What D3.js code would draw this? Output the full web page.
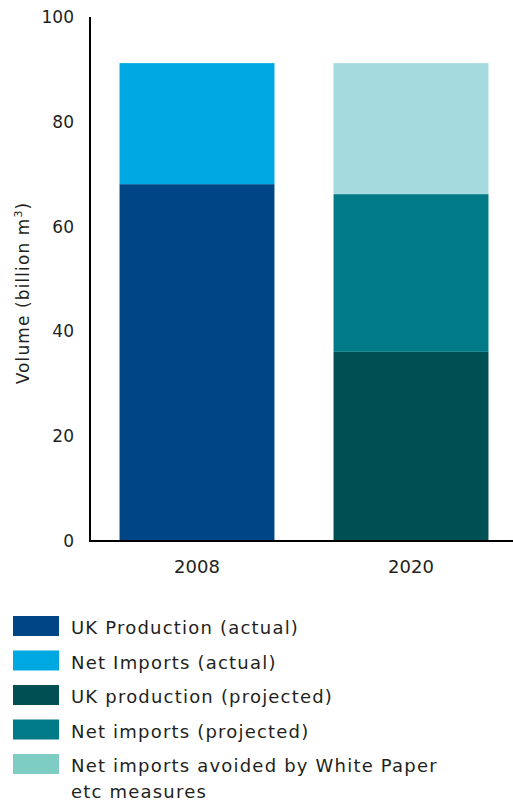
<!DOCTYPE html>
<html>
<head>
<meta charset="utf-8">
<script src="https://cdn.jsdelivr.net/npm/d3@7"></script>
<style>
  body { margin: 0; background: #fff; }
  text { font-family: "DejaVu Sans", "Liberation Sans", Arial, sans-serif; fill: #231f20; }
</style>
</head>
<body>
<svg id="chart" width="513" height="803"></svg>
<script>
// data (billion m3)
var years = ["2008", "2020"]
var seriesNames = ["UK Production (actual)", "Net Imports (actual)", "UK production (projected)", "Net imports (projected)", "Net imports avoided by White Paper etc measures"]
var seriesKeys = ["ukActual", "importActual", "ukProj", "importProj", "avoided"]
var ukActual = [68.1, 0]
var importActual = [23.1, 0]
var ukProj = [0, 36.1]
var importProj = [0, 30.1]
var avoided = [0, 25.0]
var yTicks = [0, 20, 40, 60, 80, 100]

var barColors = ["#004687", "#00a8e1", "#004f52", "#007a87", "#a5dade"]
var legendColors = ["#004687", "#00a8e1", "#004f52", "#007a87", "#7dcdc5"]

var svg = d3.select('#chart')

var rows = years.map(function(y, i) {
    return {
        year: y,
        ukActual: ukActual[i],
        importActual: importActual[i],
        ukProj: ukProj[i],
        importProj: importProj[i],
        avoided: avoided[i]
    }
})

var stacked = d3.stack().keys(seriesKeys)(rows)

var x = d3.scaleBand()
    .domain(years)
    .range([90, 518])
    .paddingInner(0.276)
    .paddingOuter(0.138)

var y = d3.scaleLinear()
    .domain([0, 100])
    .range([541, 17])

svg.append('g')
    .selectAll('g')
    .data(stacked)
    .join('g')
    .attr('fill', function(d, i) { return barColors[i] })
    .selectAll('rect')
    .data(function(d) { return d.filter(function(s) { return s[1] > s[0] }) })
    .join('rect')
    .attr('x', function(d) { return x(d.data.year) })
    .attr('width', x.bandwidth())
    .attr('y', function(d) { return y(d[1]) })
    .attr('height', function(d) { return y(d[0]) - y(d[1]) })

// axes
svg.append('line')
    .attr('x1', 90).attr('x2', 90)
    .attr('y1', y(100)).attr('y2', y(0))
    .attr('stroke', '#000').attr('stroke-width', 2)
svg.append('line')
    .attr('x1', 89).attr('x2', 513)
    .attr('y1', y(0)).attr('y2', y(0))
    .attr('stroke', '#000').attr('stroke-width', 2)

svg.append('g')
    .selectAll('text')
    .data(yTicks)
    .join('text')
    .attr('x', 74)
    .attr('y', function(d) { return y(d) + 6 })
    .attr('text-anchor', 'end')
    .attr('font-size', 17)
    .text(function(d) { return d })

svg.append('g')
    .selectAll('text')
    .data(years)
    .join('text')
    .attr('x', function(d) { return x(d) + x.bandwidth() / 2 })
    .attr('y', 573)
    .attr('text-anchor', 'middle')
    .attr('font-size', 18)
    .text(function(d) { return d })

var ylab = svg.append('text')
    .attr('transform', 'translate(29,293) rotate(-90)')
    .attr('text-anchor', 'middle')
    .attr('font-size', 17)
    .attr('letter-spacing', 1.1)
ylab.append('tspan').text('Volume (billion m')
ylab.append('tspan').attr('font-size', 11).attr('dy', -7).text('3')
ylab.append('tspan').attr('dy', 7).text(')')

// legend
var legend = svg.append('g')
    .selectAll('g')
    .data(seriesNames)
    .join('g')
    .attr('transform', function(d, i) { return 'translate(13,' + (616 + i * 34.5) + ')' })

legend.append('rect')
    .attr('width', 46).attr('height', 20)
    .attr('fill', function(d, i) { return legendColors[i] })

legend.append('text')
    .attr('x', 58)
    .attr('y', 18)
    .attr('font-size', 18)
    .attr('letter-spacing', 1.2)
    .each(function(d) {
        var t = d3.select(this)
        if (d.indexOf('White Paper') > -1) {
            t.append('tspan').attr('x', 58).text('Net imports avoided by White Paper')
            t.append('tspan').attr('x', 58).attr('dy', 26).text('etc measures')
        } else {
            t.text(d)
        }
    })
</script>
</body>
</html>
